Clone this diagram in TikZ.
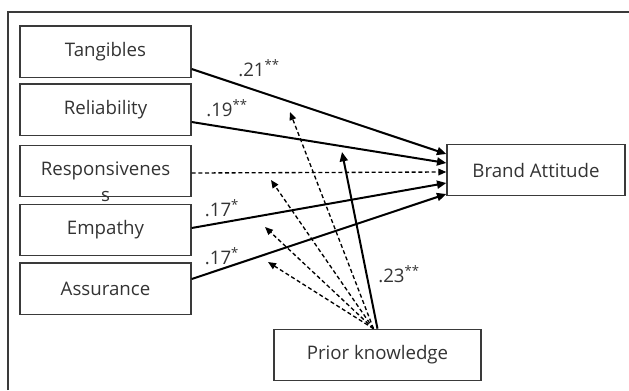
\documentclass[tikz,border=0pt]{standalone}
\usepackage{fontspec}
\setmainfont{Open Sans}
\usetikzlibrary{arrows.meta, calc}
\definecolor{edgegray}{HTML}{3A3A3A}
\definecolor{txtgray}{HTML}{333333}
\tikzset{
  vbox/.style={rectangle, draw=edgegray, line width=1pt, minimum width=#1,
               minimum height=38.5pt, inner sep=0pt, align=center,
               text=txtgray, font=\fontsize{14}{16}\selectfont},
  vbox/.default=128.25pt,
  coef/.style={inner sep=0pt, text=txtgray, font=\fontsize{14}{16}\selectfont},
  effarr/.style={-{Triangle[length=7pt,width=6pt]}, line width=1.5pt},
  modarr/.style={-{Triangle[length=6pt,width=5pt]}, line width=1pt,
                 dash pattern=on 3pt off 2pt},
}
\begin{document}
\begin{tikzpicture}[x=0.75pt, y=-0.75pt]
  \useasboundingbox (0,0) rectangle (629,390);
  \draw[line width=1.2pt, edgegray] (8,390) -- (8,12) -- (629,12);

  % service quality dimensions
  \node[vbox] (tang) at (105.5,51.5) {Tangibles};
  \node[vbox] (reli) at (105.5,109.5) {Reliability};
  \node[vbox, label={[coef, anchor=center, yshift=1pt]south:s}] (resp) at (105.5,171) {Responsivenes};
  \node[vbox] (empa) at (105.5,230) {Empathy};
  \node[vbox] (assu) at (105.5,288.5) {Assurance};

  \node[vbox=133.5pt] (brand) at (536,170) {Brand Attitude};
  \node[vbox=155.25pt] (prior) at (377.5,355) {Prior knowledge};

  % direct effects
  \draw[effarr] ($(tang.east)+(0,17.5)$) -- ($(brand.west)+(0,-16)$);
  \draw[effarr] ($(reli.east)+(0,12.5)$) -- ($(brand.west)+(0,-7)$);
  \draw[modarr] ($(resp.east)+(0,2)$) -- ($(brand.west)+(0,2)$);
  \draw[effarr] ($(empa.east)+(0,-2)$) -- ($(brand.west)+(0,13)$);
  \draw[effarr] ($(assu.east)+(0,-9.5)$) -- ($(brand.west)+(0,24)$);

  % moderation by prior knowledge
  \coordinate (m1) at (290,112);
  \coordinate (m2) at (271,180);
  \coordinate (m3) at (265,227);
  \coordinate (m4) at (268,262);
  \coordinate (pk) at ($(prior.north)+(-4,0)$);
  \foreach \m in {m1,m2,m3,m4}
    \draw[modarr] (pk) -- (\m);
  \draw[effarr] (prior.north) -- (342,152);

  \node[coef] (c1) at (259,68) {.21\textsuperscript{**}};
  \node[coef] (c2) at (227,108) {.19\textsuperscript{**}};
  \node[coef] (c4) at (222,208) {.17\textsuperscript{*}};
  \node[coef] (c5) at (222,256) {.17\textsuperscript{*}};
  \node[coef] (c6) at (399,274) {.23\textsuperscript{**}};
\end{tikzpicture}
\end{document}
